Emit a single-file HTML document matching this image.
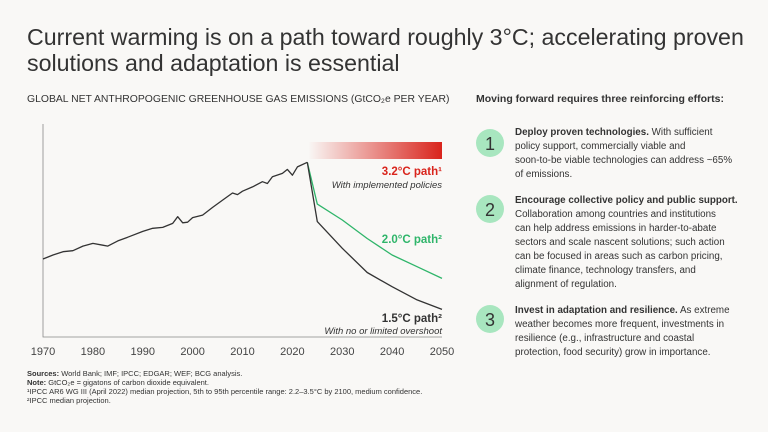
<!DOCTYPE html>
<html><head><meta charset="utf-8"><style>
body{margin:0;background:#f9f8f6;}
svg{display:block;font-family:"Liberation Sans",sans-serif;}
</style></head><body>
<svg width="768" height="432" viewBox="0 0 768 432">
<rect width="768" height="432" fill="#f9f8f6"/>
<text x="27" y="45" font-size="23.2" fill="#333" font-weight="300">Current warming is on a path toward roughly 3°C; accelerating proven</text>
<text x="27" y="71" font-size="23.2" fill="#333" font-weight="300">solutions and adaptation is essential</text>
<text x="27" y="102" font-size="10.4" fill="#333">GLOBAL NET ANTHROPOGENIC GREENHOUSE GAS EMISSIONS (GtCO₂e PER YEAR)</text>
<defs><linearGradient id="rg" x1="0" x2="1"><stop offset="0" stop-color="#d9241c" stop-opacity="0"/><stop offset="1" stop-color="#d9241c"/></linearGradient></defs>
<rect x="308" y="142" width="134" height="17" fill="url(#rg)"/>
<g id="chart"></g>
<text x="442" y="175" text-anchor="end" font-size="11.5" font-weight="bold" fill="#d9241c">3.2°C path¹</text>
<text x="442" y="188" text-anchor="end" font-size="9.5" font-style="italic" fill="#333">With implemented policies</text>
<text x="442" y="243" text-anchor="end" font-size="11.5" font-weight="bold" fill="#2fb56a">2.0°C path²</text>
<text x="442" y="322" text-anchor="end" font-size="11.5" font-weight="bold" fill="#333">1.5°C path²</text>
<text x="442" y="334" text-anchor="end" font-size="9.5" font-style="italic" fill="#333">With no or limited overshoot</text>
<g font-size="7.5" fill="#333">
<text x="27" y="376"><tspan font-weight="bold">Sources:</tspan> World Bank; IMF; IPCC; EDGAR; WEF; BCG analysis.</text>
<text x="27" y="385"><tspan font-weight="bold">Note:</tspan> GtCO₂e = gigatons of carbon dioxide equivalent.</text>
<text x="27" y="394">¹IPCC AR6 WG III (April 2022) median projection, 5th to 95th percentile range: 2.2–3.5°C by 2100, medium confidence.</text>
<text x="27" y="403">²IPCC median projection.</text>
</g>
<text x="476" y="102" font-size="10.5" font-weight="bold" fill="#333">Moving forward requires three reinforcing efforts:</text>
<g>
<circle cx="490" cy="143" r="14" fill="#a8e6bf"/><text x="490" y="150" text-anchor="middle" font-size="18" fill="#333">1</text>
<g font-size="9.8" fill="#333"><text x="515" y="135"><tspan font-weight="bold">Deploy proven technologies.</tspan> With sufficient</text>
<text x="515" y="149">policy support, commercially viable and</text>
<text x="515" y="163">soon-to-be viable technologies can address ~65%</text>
<text x="515" y="177">of emissions.</text></g></g>
<g>
<circle cx="490" cy="209" r="14" fill="#a8e6bf"/><text x="490" y="216" text-anchor="middle" font-size="18" fill="#333">2</text>
<g font-size="9.8" fill="#333"><text x="515" y="203" font-weight="bold">Encourage collective policy and public support.</text>
<text x="515" y="217">Collaboration among countries and institutions</text>
<text x="515" y="231">can help address emissions in harder-to-abate</text>
<text x="515" y="245">sectors and scale nascent solutions; such action</text>
<text x="515" y="259">can be focused in areas such as carbon pricing,</text>
<text x="515" y="273">climate finance, technology transfers, and</text>
<text x="515" y="287">alignment of regulation.</text></g></g>
<g>
<circle cx="490" cy="319" r="14" fill="#a8e6bf"/><text x="490" y="326" text-anchor="middle" font-size="18" fill="#333">3</text>
<g font-size="9.8" fill="#333"><text x="515" y="313"><tspan font-weight="bold">Invest in adaptation and resilience.</tspan> As extreme</text>
<text x="515" y="327">weather becomes more frequent, investments in</text>
<text x="515" y="341">resilience (e.g., infrastructure and coastal</text>
<text x="515" y="355">protection, food security) grow in importance.</text></g></g>
</svg>
<script>
const histYears=[1970,1972,1974,1976,1978,1980,1982,1983,1985,1987,1990,1992,1994,1996,1997,1998,1999,2000,2002,2004,2006,2008,2009,2010,2012,2014,2015,2016,2018,2019,2020,2021,2023];
const histValues=[25.4,26.7,27.8,28.1,29.6,30.5,29.9,29.6,31.3,32.5,34.4,35.4,35.7,37.0,39.2,37.2,37.4,38.9,39.7,42.2,44.6,46.9,46.4,47.5,48.9,50.6,50.0,52.2,53.3,54.6,52.7,55.4,56.9];
const projYears=[2023,2025,2030,2035,2040,2045,2050];
const path15Values=[56.9,37.6,28.9,21.0,16.4,12.1,9.0];
const path20Values=[56.9,43.3,38.1,32.1,26.7,22.9,19.1];
const xTicks=[1970,1980,1990,2000,2010,2020,2030,2040,2050];
const NS='http://www.w3.org/2000/svg';
const g=document.getElementById('chart');
function xs(y){return 43+(y-1970)*(442-43)/80;}
function ys(v){return 337-v*3.07;}
function mk(t,a){const e=document.createElementNS(NS,t);for(const k in a)e.setAttribute(k,a[k]);g.appendChild(e);return e;}
function line(xv,yv,c,n){const d=xv.map((x,i)=>(i?'L':'M')+xs(x).toFixed(1)+','+ys(yv[i]).toFixed(1)).join('');const p=mk('path',{d:d,fill:'none',stroke:c,'stroke-width':1.3,'stroke-linejoin':'round'});

}
const ax=mk('path',{d:'M43,124V337H442',fill:'none',stroke:'#888','stroke-width':0.8});


line(projYears,path20Values,'#2fb56a','line-2.0c-path');
line(projYears,path15Values,'#333','line-1.5c-path');
line(histYears,histValues,'#333','line-historical');
xTicks.forEach(y=>{const t=mk('text',{x:xs(y),y:355,'text-anchor':'middle','font-size':11,fill:'#444'});t.textContent=y;

});
</script>
</body></html>
